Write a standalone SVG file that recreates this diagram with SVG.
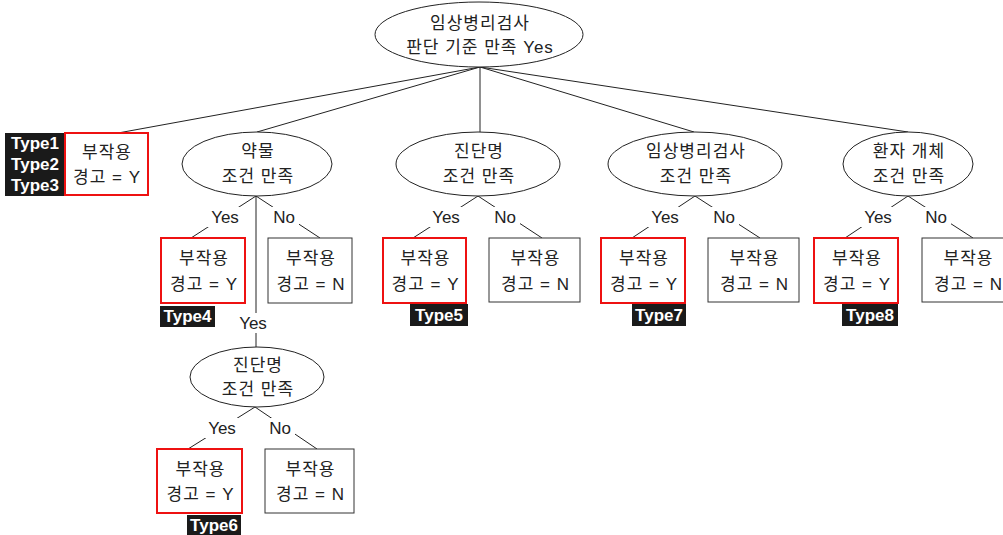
<svg xmlns="http://www.w3.org/2000/svg" width="1003" height="535" viewBox="0 0 1003 535">
  <style>
    text { font-family: "Liberation Sans", "Noto Sans CJK KR", sans-serif; font-size: 17px; letter-spacing: 1px; fill: #222; text-anchor: middle; dominant-baseline: central; }
    .lbl { letter-spacing: 0; }
    .ell { fill: #fff; stroke: #222; stroke-width: 1; }
    .box { fill: #fff; stroke: #333; stroke-width: 1; }
    .hit { fill: #fff; stroke: #ee1111; stroke-width: 2; }
    .tag { fill: #1a1a1a; }
    .tagtxt { fill: #fff; font-weight: bold; font-size: 17px; letter-spacing: 0; }
    .edge { stroke: #222; stroke-width: 1; fill: none; }
    .lblbg { fill: #fff; }
  </style>

  <!-- connectors -->
  <g id="connectors">
    <line class="edge" x1="480" y1="67" x2="118" y2="133"/>
    <line class="edge" x1="480" y1="67" x2="257" y2="132"/>
    <line class="edge" x1="480" y1="67" x2="480" y2="132"/>
    <line class="edge" x1="480" y1="67" x2="694" y2="132"/>
    <line class="edge" x1="480" y1="67" x2="908" y2="132"/>

    <line class="edge" x1="256" y1="196" x2="191" y2="238"/>
    <line class="edge" x1="256" y1="196" x2="320" y2="238"/>
    <line class="edge" x1="256" y1="196" x2="256" y2="347" stroke="#555"/>

    <line class="edge" x1="255" y1="407" x2="188" y2="449"/>
    <line class="edge" x1="255" y1="407" x2="317" y2="449"/>

    <line class="edge" x1="478" y1="196" x2="413" y2="238"/>
    <line class="edge" x1="478" y1="196" x2="542" y2="238"/>

    <line class="edge" x1="695" y1="196" x2="632" y2="238"/>
    <line class="edge" x1="695" y1="196" x2="760" y2="238"/>

    <line class="edge" x1="908" y1="196" x2="845" y2="238"/>
    <line class="edge" x1="908" y1="196" x2="973" y2="238"/>

    <!-- branch labels -->
    <g id="branch-labels">
      <rect class="lblbg" x="207" y="207" width="36" height="20"/><text class="lbl" x="225" y="217">Yes</text>
      <rect class="lblbg" x="269" y="207" width="30" height="20"/><text class="lbl" x="284" y="217">No</text>
      <rect class="lblbg" x="235" y="313" width="36" height="20"/><text class="lbl" x="253" y="323">Yes</text>

      <rect class="lblbg" x="204" y="418" width="36" height="20"/><text class="lbl" x="222" y="428">Yes</text>
      <rect class="lblbg" x="265" y="418" width="30" height="20"/><text class="lbl" x="280" y="428">No</text>

      <rect class="lblbg" x="428" y="207" width="36" height="20"/><text class="lbl" x="446" y="217">Yes</text>
      <rect class="lblbg" x="490" y="207" width="30" height="20"/><text class="lbl" x="505" y="217">No</text>

      <rect class="lblbg" x="647" y="207" width="36" height="20"/><text class="lbl" x="665" y="217">Yes</text>
      <rect class="lblbg" x="709" y="207" width="30" height="20"/><text class="lbl" x="724" y="217">No</text>

      <rect class="lblbg" x="860" y="207" width="36" height="20"/><text class="lbl" x="878" y="217">Yes</text>
      <rect class="lblbg" x="921" y="207" width="30" height="20"/><text class="lbl" x="936" y="217">No</text>
    </g>
  </g>

  <!-- root decision -->
  <g id="root">
    <ellipse class="ell" cx="479" cy="34.5" rx="104" ry="32.5"/>
    <text x="480" y="23">임상병리검사</text>
    <text x="480" y="47">판단 기준 만족 Yes</text>
  </g>

  <!-- Type1-3 leaf -->
  <g id="leaf-type123">
    <rect class="tag" x="5" y="133" width="59" height="63"/>
    <text class="tagtxt" x="35" y="143">Type1</text>
    <text class="tagtxt" x="35" y="164">Type2</text>
    <text class="tagtxt" x="35" y="185">Type3</text>
    <rect class="hit" x="65" y="133" width="83" height="62"/>
    <text x="107" y="152">부작용</text>
    <text x="107" y="177">경고 = Y</text>
  </g>

  <!-- drug condition -->
  <g id="drug">
    <ellipse class="ell" cx="257" cy="164" rx="75" ry="32"/>
    <text x="258" y="151">약물</text>
    <text x="258" y="176">조건 만족</text>
  </g>
  <g id="drug-yes">
    <rect class="hit" x="161" y="238" width="84" height="65"/>
    <text x="204" y="258">부작용</text>
    <text x="204" y="284">경고 = Y</text>
    <rect class="tag" x="160" y="306" width="55" height="21"/>
    <text class="tagtxt" x="187.5" y="316.5">Type4</text>
  </g>
  <g id="drug-no">
    <rect class="box" x="268" y="238" width="84" height="65"/>
    <text x="311" y="258">부작용</text>
    <text x="311" y="284">경고 = N</text>
  </g>

  <!-- diagnosis under drug -->
  <g id="drug-dx">
    <ellipse class="ell" cx="257" cy="377" rx="67" ry="30"/>
    <text x="258" y="365">진단명</text>
    <text x="258" y="389">조건 만족</text>
  </g>
  <g id="drug-dx-yes">
    <rect class="hit" x="157" y="449" width="85" height="64"/>
    <text x="200.5" y="469">부작용</text>
    <text x="200.5" y="494">경고 = Y</text>
    <rect class="tag" x="187" y="515" width="54" height="20"/>
    <text class="tagtxt" x="214" y="525">Type6</text>
  </g>
  <g id="drug-dx-no">
    <rect class="box" x="265" y="449" width="89" height="64"/>
    <text x="310.5" y="469">부작용</text>
    <text x="310.5" y="494">경고 = N</text>
  </g>

  <!-- diagnosis -->
  <g id="dx">
    <ellipse class="ell" cx="478" cy="164" rx="82" ry="32"/>
    <text x="479" y="151">진단명</text>
    <text x="479" y="176">조건 만족</text>
  </g>
  <g id="dx-yes">
    <rect class="hit" x="383" y="238" width="83" height="65"/>
    <text x="425.5" y="258">부작용</text>
    <text x="425.5" y="284">경고 = Y</text>
    <rect class="tag" x="410" y="304" width="58" height="22"/>
    <text class="tagtxt" x="439" y="315">Type5</text>
  </g>
  <g id="dx-no">
    <rect class="box" x="489" y="238" width="91" height="64"/>
    <text x="535.5" y="258">부작용</text>
    <text x="535.5" y="284">경고 = N</text>
  </g>

  <!-- lab test -->
  <g id="lab">
    <ellipse class="ell" cx="695" cy="164" rx="87" ry="32"/>
    <text x="696" y="151">임상병리검사</text>
    <text x="696" y="176">조건 만족</text>
  </g>
  <g id="lab-yes">
    <rect class="hit" x="601" y="238" width="84" height="65"/>
    <text x="644" y="258">부작용</text>
    <text x="644" y="284">경고 = Y</text>
    <rect class="tag" x="632" y="304" width="54" height="22"/>
    <text class="tagtxt" x="659" y="315">Type7</text>
  </g>
  <g id="lab-no">
    <rect class="box" x="708" y="238" width="91" height="64"/>
    <text x="754.5" y="258">부작용</text>
    <text x="754.5" y="284">경고 = N</text>
  </g>

  <!-- patient -->
  <g id="patient">
    <ellipse class="ell" cx="908" cy="164" rx="65" ry="32"/>
    <text x="909" y="151">환자 개체</text>
    <text x="909" y="176">조건 만족</text>
  </g>
  <g id="patient-yes">
    <rect class="hit" x="814" y="238" width="84" height="65"/>
    <text x="857" y="258">부작용</text>
    <text x="857" y="284">경고 = Y</text>
    <rect class="tag" x="842" y="304" width="56" height="22"/>
    <text class="tagtxt" x="870" y="315">Type8</text>
  </g>
  <g id="patient-no">
    <rect class="box" x="922" y="238" width="91" height="64"/>
    <text x="968.5" y="258">부작용</text>
    <text x="968.5" y="284">경고 = N</text>
  </g>
</svg>
